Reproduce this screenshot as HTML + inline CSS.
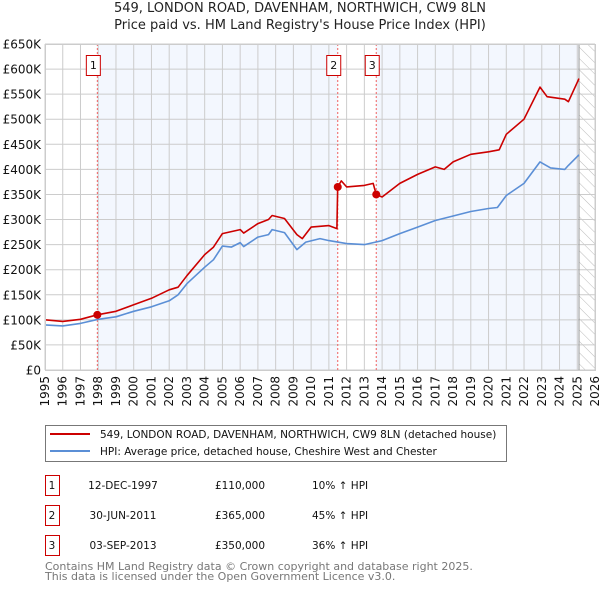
<!DOCTYPE html>
<html><head><meta charset="utf-8"><style>
body{margin:0;background:#fff;font-family:"DejaVu Sans","Liberation Sans",sans-serif;}
svg{display:block}
</style></head><body>
<svg id="c" width="600" height="590" xmlns="http://www.w3.org/2000/svg" font-family="DejaVu Sans, Liberation Sans, sans-serif">
<defs><pattern id="hatch" width="8" height="8" patternUnits="userSpaceOnUse" patternTransform="rotate(-45)"><line x1="0" y1="0" x2="0" y2="8" stroke="#bbb" stroke-width="1"/></pattern></defs>
<text x="300" y="12" text-anchor="middle" font-size="13" fill="#222">549, LONDON ROAD, DAVENHAM, NORTHWICH, CW9 8LN</text>
<text x="300" y="29" text-anchor="middle" font-size="13" fill="#222">Price paid vs. HM Land Registry's House Price Index (HPI)</text>
<g id="plot"></g>
<g>
<rect x="45.5" y="425.5" width="461" height="36" fill="#fff" stroke="#777"/>
<line x1="50" y1="434" x2="90" y2="434" stroke="#cc0000" stroke-width="2"/>
<text x="100" y="438" font-size="10.5" fill="#111">549, LONDON ROAD, DAVENHAM, NORTHWICH, CW9 8LN (detached house)</text>
<line x1="50" y1="451" x2="90" y2="451" stroke="#5b8fd6" stroke-width="2"/>
<text x="100" y="455" font-size="10.5" fill="#111">HPI: Average price, detached house, Cheshire West and Chester</text>
</g>
<g id="tbl" font-size="10.5" fill="#111"></g>
<text x="45" y="570" font-size="11" fill="#777">Contains HM Land Registry data © Crown copyright and database right 2025.</text>
<text x="45" y="580" font-size="11" fill="#777">This data is licensed under the Open Government Licence v3.0.</text>
</svg>
<script>
const yTicks=[0,50,100,150,200,250,300,350,400,450,500,550,600,650];
const yTickLabels=["£0","£50K","£100K","£150K","£200K","£250K","£300K","£350K","£400K","£450K","£500K","£550K","£600K","£650K"];
const years=[1995,1996,1997,1998,1999,2000,2001,2002,2003,2004,2005,2006,2007,2008,2009,2010,2011,2012,2013,2014,2015,2016,2017,2018,2019,2020,2021,2022,2023,2024,2025,2026];
const hpiT=[1995,1996,1997,1998,1999,2000,2001,2002,2002.5,2003,2004,2004.5,2005,2005.5,2006,2006.2,2007,2007.6,2007.8,2008.5,2009.2,2009.7,2010.5,2011,2012,2013,2014,2015,2016,2017,2018,2019,2020,2020.5,2021,2022,2022.9,2023.5,2024.3,2024.5,2025.1];
const hpiV=[90,88,93,101,106,117,126,138,150,172,205,220,247,245,254,246,265,270,280,274,240,255,262,258,252,250,258,272,285,298,307,316,322,324,348,372,415,403,400,408,429];
const priceT=[1995,1996,1997,1997.95,1999,2000,2001,2002,2002.5,2003,2004,2004.5,2005,2006,2006.2,2007,2007.6,2007.8,2008.5,2009.2,2009.5,2010,2011,2011.45,2011.5,2011.7,2012,2013,2013.5,2013.67,2014,2015,2016,2017,2017.5,2018,2019,2020,2020.6,2021,2022,2022.9,2023.3,2024.3,2024.5,2025.1];
const priceV=[100,97,101,110,117,130,143,160,165,188,230,245,272,280,273,292,300,308,302,270,262,285,288,282,365,377,365,368,372,350,345,372,390,405,400,415,430,435,439,470,500,564,545,540,535,581];
const saleT=[1997.95,2011.5,2013.67];
const saleV=[110,365,350];
const saleLabels=["1","2","3"];
const saleDates=["12-DEC-1997","30-JUN-2011","03-SEP-2013"];
const salePrices=["£110,000","£365,000","£350,000"];
const saleHpi=["10% ↑ HPI","45% ↑ HPI","36% ↑ HPI"];

const NS="http://www.w3.org/2000/svg";
const L=45,R=595,T=44,B=370;
const x=t=>L+(t-1995)/(2026-1995)*(R-L);
const y=v=>B-v/650*(B-T);
function mk(tag,at,parent){const e=document.createElementNS(NS,tag);for(const k in at)e.setAttribute(k,at[k]);parent.appendChild(e);return e;}
const g=document.getElementById('plot');
let bg=mk('rect',{x:L,y:T,width:R-L,height:B-T,fill:'#fff'},g);


const shades=[[saleT[0],saleT[1]],[saleT[2],2025.1]];
shades.forEach(s=>{const r=mk('rect',{x:x(s[0]),y:T,width:x(s[1])-x(s[0]),height:B-T,fill:'#eef3fd',opacity:0.7},g);

});
let h=mk('rect',{x:x(2025.1),y:T,width:R-x(2025.1),height:B-T,fill:'url(#hatch)'},g);


years.forEach(yr=>{const l=mk('line',{x1:x(yr),x2:x(yr),y1:T,y2:B,stroke:'#ccc','stroke-width':1},g);


const t=mk('text',{x:0,y:0,'font-size':12,fill:'#111','text-anchor':'end',transform:`translate(${x(yr)+4},${B+6}) rotate(-90)`},g);t.textContent=yr;

});
yTicks.forEach((v,i)=>{const l=mk('line',{x1:L,x2:R,y1:y(v),y2:y(v),stroke:'#ccc','stroke-width':1},g);


const t=mk('text',{x:L-4,y:y(v)+4.5,'font-size':12,fill:'#111','text-anchor':'end'},g);t.textContent=yTickLabels[i];

});
let nl=mk('line',{x1:x(2025.1),x2:x(2025.1),y1:T,y2:B,stroke:'#999','stroke-width':1},g);


saleT.forEach((t,i)=>{const l=mk('line',{x1:x(t),x2:x(t),y1:T,y2:B,stroke:'#f06060','stroke-width':1,'stroke-dasharray':'2,2'},g);


const bx=mk('rect',{x:x(t)-11,y:55.5,width:14,height:20,fill:'#fff',stroke:'#cc0000'},g);


const tx=mk('text',{x:x(t)-4,y:69,'font-size':11,fill:'#111','text-anchor':'middle'},g);tx.textContent=saleLabels[i];

});
function path(ts,vs,col,name){const d=ts.map((t,i)=>(i?'L':'M')+x(t).toFixed(1)+','+y(vs[i]).toFixed(1)).join('');
const p=mk('path',{d,fill:'none',stroke:col,'stroke-width':1.6,'stroke-linejoin':'round'},g);

}
path(hpiT,hpiV,'#5b8fd6','hpi-line');
path(priceT,priceV,'#cc0000','price-line');
saleT.forEach((t,i)=>{const c=mk('circle',{cx:x(t),cy:y(saleV[i]),r:4,fill:'#cc0000'},g);

});
let fr=mk('rect',{x:L+0.5,y:T+0.5,width:R-L,height:B-T,fill:'none',stroke:'#ccc'},g);


const tb=document.getElementById('tbl');
saleT.forEach((t,i)=>{const yy=475+i*30;
const b=mk('rect',{x:45.5,y:yy+0.5,width:14,height:20,fill:'#fff',stroke:'#cc0000'},tb);


const cells=[[52,saleLabels[i],'middle'],[123,saleDates[i],'middle'],[240,salePrices[i],'middle'],[312,saleHpi[i],'start']];
cells.forEach((c,j)=>{const e=mk('text',{x:c[0],y:yy+14,'text-anchor':c[2]},tb);e.textContent=c[1];

});});
</script>
</body></html>
